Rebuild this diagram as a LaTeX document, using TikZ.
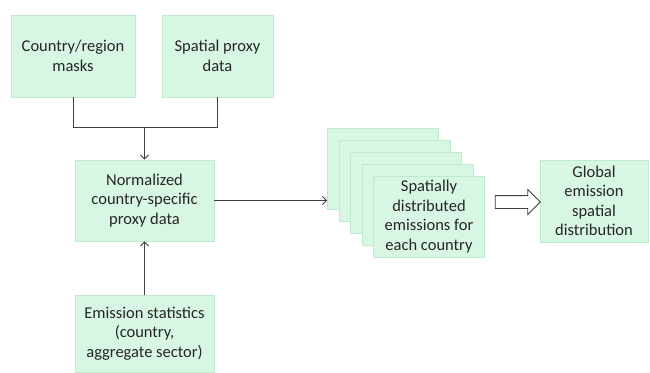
\documentclass[tikz,border=0pt]{standalone}
\usepackage{fontspec}
\setmainfont{Carlito}
\usetikzlibrary{arrows.meta,shapes.arrows}
\definecolor{boxfill}{RGB}{216,246,228}
\definecolor{boxline}{RGB}{188,236,204}
\definecolor{ink}{RGB}{64,64,64}
\tikzset{
    box/.style={draw=boxline, fill=boxfill, line width=0.8pt, align=center, inner sep=0pt,
        text=black!85, font=\fontsize{16.5}{19.5}\selectfont},
    l1/.style={draw=ink, line width=0.9pt},
    l2/.style={draw=ink, ->, >={Straight Barb[length=4pt,width=8pt]}, line width=0.9pt}
}
\begin{document}
\begin{tikzpicture}[x=1pt, y=-1pt]
\useasboundingbox (0,0) rectangle (650,372);

% Inputs (top row)
\node[box, minimum width=124pt, minimum height=82pt] (masks) at (73, 56) {Country/region\\masks};
\node[box, minimum width=111pt, minimum height=82pt] (proxy) at (217.5, 56) {Spatial proxy\\data};

% Middle column
\node[box, minimum width=139pt, minimum height=81pt] (norm) at (144.5, 200.5) {Normalized\\country-specific\\proxy data};
\node[box, minimum width=139pt, minimum height=77pt] (stats) at (144.5, 333.5) {Emission statistics\\(country,\\aggregate sector)};

% Stack of country maps (back to front)
\node[box, minimum width=111pt, minimum height=81pt] (st1) at (383, 168.5) {};
\node[box, minimum width=111pt, minimum height=81pt] (st2) at (394.5, 180.5) {};
\node[box, minimum width=111pt, minimum height=81pt] (st3) at (406, 192.5) {};
\node[box, minimum width=111pt, minimum height=81pt] (st4) at (417.5, 204.5) {};
\node[box, minimum width=111pt, minimum height=81pt] (st5) at (429, 216.5) {Spatially\\distributed\\emissions for\\each country};

% Result
\node[box, minimum width=108pt, minimum height=82pt] (glob) at (594, 201) {Global\\emission\\spatial\\distribution};
\node[single arrow, draw=ink, fill=white, line width=0.9pt, minimum height=45pt, minimum width=24pt,
      single arrow head extend=6pt, inner xsep=0pt, inner ysep=6pt] (big) at (514.5, 202) {};

% Inputs -> normalized
\coordinate (join) at (144.5, 127);
\draw[l1] (masks) |- (join);
\draw[l1] (proxy) |- (join);
\draw[l2] (join) -- (norm);

% Statistics -> normalized
\draw[l2] (stats) -- (norm);

% Normalized -> stack
\draw[l2] (norm.east) -- (norm.east -| st1.west);

\end{tikzpicture}
\end{document}
